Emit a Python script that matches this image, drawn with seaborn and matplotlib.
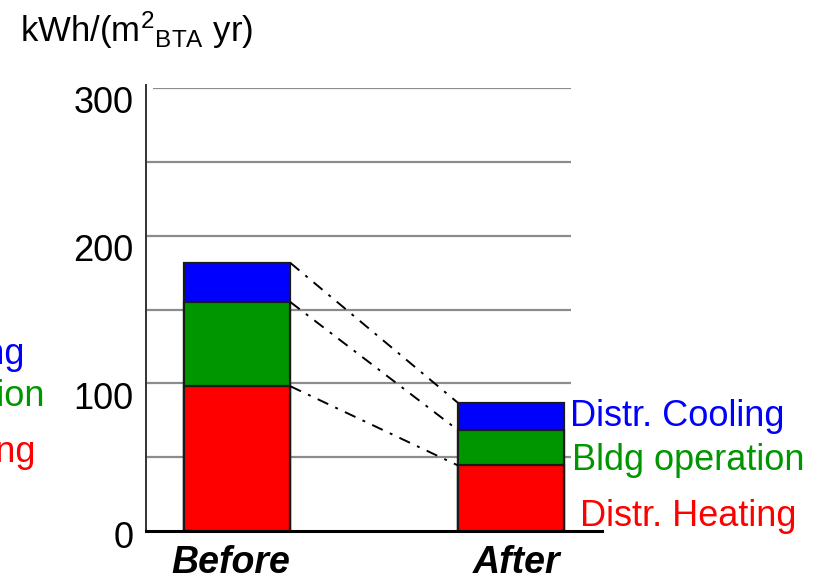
import matplotlib
matplotlib.use("Agg")
import matplotlib.pyplot as plt
import matplotlib.transforms as mtransforms
import seaborn as sns
import pandas as pd

periods = ["Before", "After"]
heating = [98, 44.5]
bldg_operation = [57, 24]
cooling = [26.5, 18.5]
series_names = ["Distr. Heating", "Bldg operation", "Distr. Cooling"]
series_colors = ["#FF0000", "#009600", "#0000FF"]
y_ticks = [0, 100, 200, 300]
grid_levels = [50, 100, 150, 200, 250, 300]

sns.set_theme(style="white")
plt.rcParams["font.family"] = ["Liberation Sans", "DejaVu Sans"]
plt.rcParams["mathtext.fontset"] = "custom"
plt.rcParams["mathtext.rm"] = "Liberation Sans"
plt.rcParams["mathtext.it"] = "Liberation Sans:italic"

W, H = 829, 583
fig = plt.figure(figsize=(W / 100, H / 100), dpi=100)
ax = fig.add_axes([146 / W, 52 / H, 456 / W, 443 / H])

cum1 = [h for h in heating]
cum2 = [h + b for h, b in zip(heating, bldg_operation)]
cum3 = [h + b + c for h, b, c in zip(heating, bldg_operation, cooling)]

df = pd.DataFrame({"period": periods, "c1": cum1, "c2": cum2, "c3": cum3})

# gridlines first (behind bars)
ax.hlines(grid_levels[:-1], -0.332, 1.22, colors="#8c8c8c", linewidth=1.6, zorder=0)
ax.hlines(grid_levels[-1:], -0.305, 1.22, colors="#8c8c8c", linewidth=1.6, zorder=0)

for col, color in zip(["c3", "c2", "c1"], series_colors[::-1]):
    sns.barplot(data=df, x="period", y=col, order=periods, color=color,
                width=0.39, edgecolor="#1a1a1a", linewidth=1.6, ax=ax,
                saturation=1, zorder=2)

# dash-dot connectors between bar tops
half = 0.39 / 2
for a, b in [(cum3[0], cum3[1]), (cum2[0], cum2[1]), (cum1[0], cum1[1])]:
    ax.plot([0 + half, 1 - half], [a, b], color="black", linestyle=(0, (6, 4, 1.5, 4)),
            linewidth=1.4, zorder=3)

ax.set_xlim(-0.332, 1.332)
ax.set_ylim(0, 300)
ax.set_yticks(y_ticks)
ax.set_yticklabels([str(t) for t in y_ticks], fontsize=26)
ax.set_xticks([0, 1])
ax.set_xticklabels(periods, fontsize=27, fontweight="bold", fontstyle="italic")
ax.tick_params(axis="y", length=0, pad=9, colors="black")
ax.tick_params(axis="x", length=0, pad=10, colors="black")
yoffs = [-4, -12, -12, -12]
for lab, dy in zip(ax.get_yticklabels(), yoffs):
    lab.set_transform(lab.get_transform() + mtransforms.ScaledTranslation(0, dy / 100, fig.dpi_scale_trans))
xoffs = [-6 / 100, 6 / 100]
for lab, dx in zip(ax.get_xticklabels(), xoffs):
    lab.set_transform(lab.get_transform() + mtransforms.ScaledTranslation(dx, 0, fig.dpi_scale_trans))
ax.set_xlabel("")
ax.set_ylabel("")
ax.grid(False)
for s in ["top", "right"]:
    ax.spines[s].set_visible(False)
ax.spines["left"].set_color("#333333")
ax.spines["left"].set_linewidth(1.4)
ax.spines["left"].set_bounds(0, 302)
ax.spines["bottom"].set_color("black")
ax.spines["bottom"].set_linewidth(2.2)

# unit label
fig.text(20 / W, 1 - 30 / H, r"kWh/(m$^{2}$$_{\mathrm{BTA}}$ yr)", fontsize=25,
         ha="left", va="center", color="black")

# right labels
fig.text(570 / W, 1 - 417 / H, series_names[2], color=series_colors[2], fontsize=26, ha="left", va="center")
fig.text(572 / W, 1 - 460 / H, series_names[1], color=series_colors[1], fontsize=26, ha="left", va="center")
fig.text(580 / W, 1 - 516 / H, series_names[0], color=series_colors[0], fontsize=26, ha="left", va="center")

# labels partly cut off at the left edge, as in the reference
fig.text(24 / W, 1 - 355 / H, series_names[2], color=series_colors[2], fontsize=26, ha="right", va="center")
fig.text(45 / W, 1 - 396 / H, series_names[1], color=series_colors[1], fontsize=26, ha="right", va="center")
fig.text(35 / W, 1 - 452 / H, series_names[0], color=series_colors[0], fontsize=26, ha="right", va="center")

fig.savefig("out.png", dpi=100)
